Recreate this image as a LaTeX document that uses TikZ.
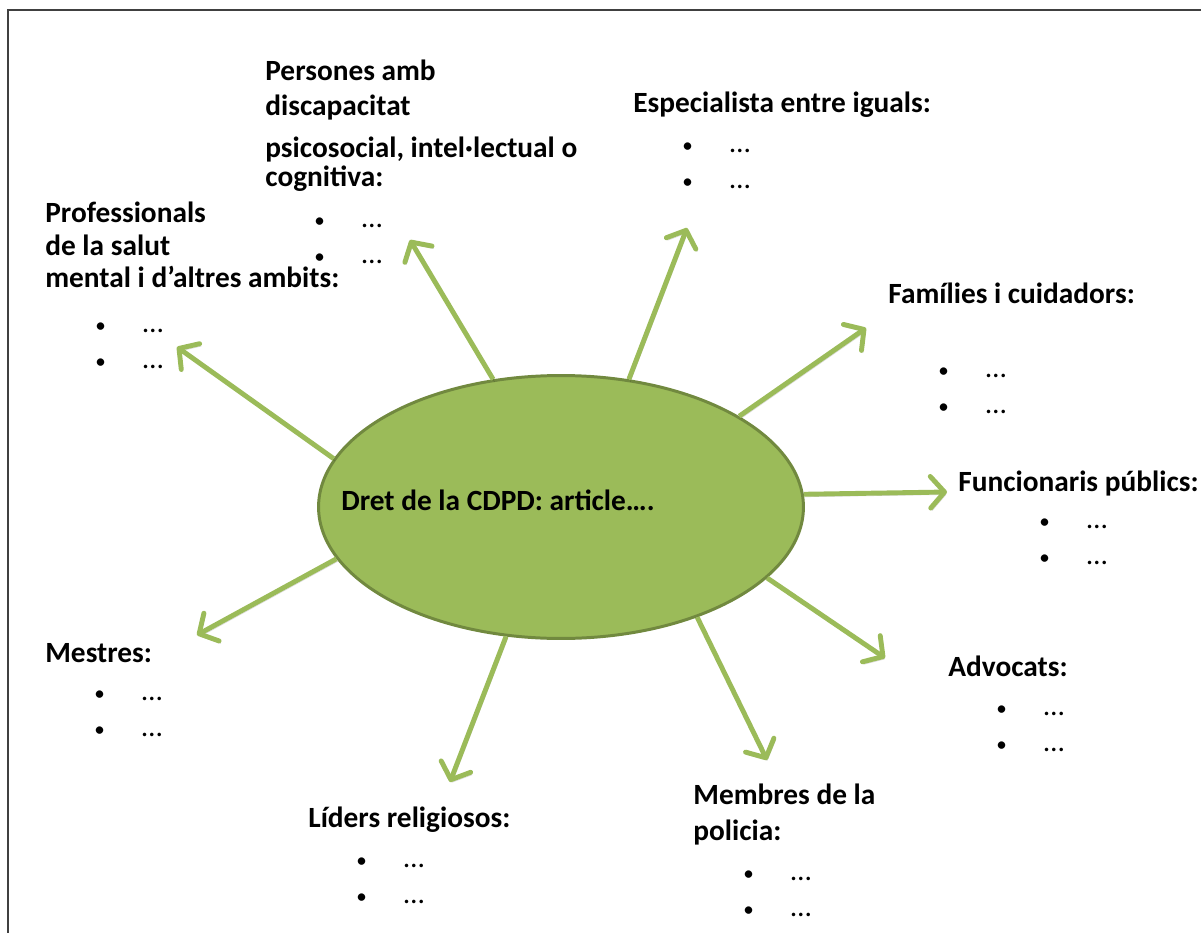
\documentclass[tikz,border=0pt]{standalone}
\usepackage{fontspec}
\setmainfont{Carlito}
\usetikzlibrary{shapes,arrows.meta,positioning,calc}
\definecolor{cdpdgreen}{RGB}{155,187,89}
\definecolor{cdpdolive}{RGB}{113,137,63}
\newcommand{\dotmark}{\makebox[27pt][l]{\fontsize{12}{12}\selectfont\textbullet}}
\newcommand{\dotpair}{\strut\dotmark\ldots\\\dotmark\ldots}

\begin{document}
\begin{tikzpicture}[x=0.02cm, y=-0.02cm,
    grouptitle/.style={inner sep=0pt, align=left, font=\bfseries\fontsize{16.7}{18.7}\selectfont},
    items/.style={inner sep=0pt, anchor=north west, align=left, font=\fontsize{16.7}{20.4}\selectfont},
    spoke/.style={cdpdgreen, line width=2.8pt, -{Straight Barb[length=8pt, width=18pt, line cap=round, line join=round]},
        preaction={draw=black, opacity=0.15, transform canvas={shift={(0.8pt,-1.4pt)}}}}]
    \useasboundingbox (0,0) rectangle (1201,933);
    \draw[black!75, line width=0.9pt] (8,933) -- (8,10) -- (1201,10);

    % Centre
    \node[ellipse, draw=cdpdolive, fill=cdpdgreen, line width=1.7pt, minimum width=9.7cm, minimum height=5.26cm, inner sep=0pt] (dret) at (561,507) {};
    \node[grouptitle, anchor=base west] (dretText) at (341,510) {Dret de la CDPD: article….};

    % Arrow ends
    \coordinate (profTip) at (177,347);
    \coordinate (perTip) at (410,240);
    \coordinate (espTip) at (687,228);
    \coordinate (famTip) at (866,328);
    \coordinate (funTip) at (947,492);
    \coordinate (advTip) at (885,658);
    \coordinate (memTip) at (767,760);
    \coordinate (lidTip) at (450,782);
    \coordinate (mesTip) at (197,635);

    \draw[spoke] (dret.168.5) -- (profTip);
    \draw[spoke] (dret.118.4) -- (perTip);
    \draw[spoke] (dret.62.2) -- (espTip);
    \draw[spoke] (dret.27.4) -- (famTip);
    \draw[spoke] (dret.3.5) -- (funTip);
    \draw[spoke] (dret.-19.6) -- (advTip);
    \draw[spoke] (dret.-39) -- (memTip);
    \draw[spoke] (dret.-113.4) -- (lidTip);
    \draw[spoke] (dret.-167.8) -- (mesTip);

    % Professionals
    \node[grouptitle, anchor=north west] (profTitle) at (45,198.9) {\strut Professionals\\de la salut\\mental i d’altres ambits:};
    \node[items] (profItems) at (95,306.8) {\dotpair};

    % Persones amb discapacitat
    \node[grouptitle, anchor=north west] (perTitle) at (265,56.9) {\strut Persones amb\\[1.1pt]discapacitat\\[5.7pt]psicosocial, intel·lectual o\\[-2.3pt]cognitiva:};
    \node[items] (perItems) at (314,201.8) {\dotpair};

    % Especialista
    \node[grouptitle, anchor=base west] (espTitle) at (633,112) {Especialista entre iguals:};
    \node[items] (espItems) at (682,126.8) {\dotpair};

    % Families
    \node[grouptitle, anchor=base west] (famTitle) at (888,303) {Famílies i cuidadors:};
    \node[items] (famItems) at (938,351.8) {\dotpair};

    % Funcionaris
    \node[grouptitle, anchor=base west] (funTitle) at (958,491) {Funcionaris públics:};
    \node[items] (funItems) at (1039,502.8) {\dotpair};

    % Advocats
    \node[grouptitle, anchor=base west] (advTitle) at (948,676) {Advocats:};
    \node[items] (advItems) at (996,689.8) {\dotpair};

    % Policia
    \node[grouptitle, anchor=north west] (memTitle) at (693,780.9) {\strut Membres de la\\[1.7pt]policia:};
    \node[items] (memItems) at (743,854.8) {\dotpair};

    % Lideres
    \node[grouptitle, anchor=base west] (lidTitle) at (308,827) {Líders religiosos:};
    \node[items] (lidItems) at (356,841.8) {\dotpair};

    % Mestres
    \node[grouptitle, anchor=base west] (mesTitle) at (45,662) {Mestres:};
    \node[items] (mesItems) at (94,674.8) {\dotpair};
\end{tikzpicture}
\end{document}
